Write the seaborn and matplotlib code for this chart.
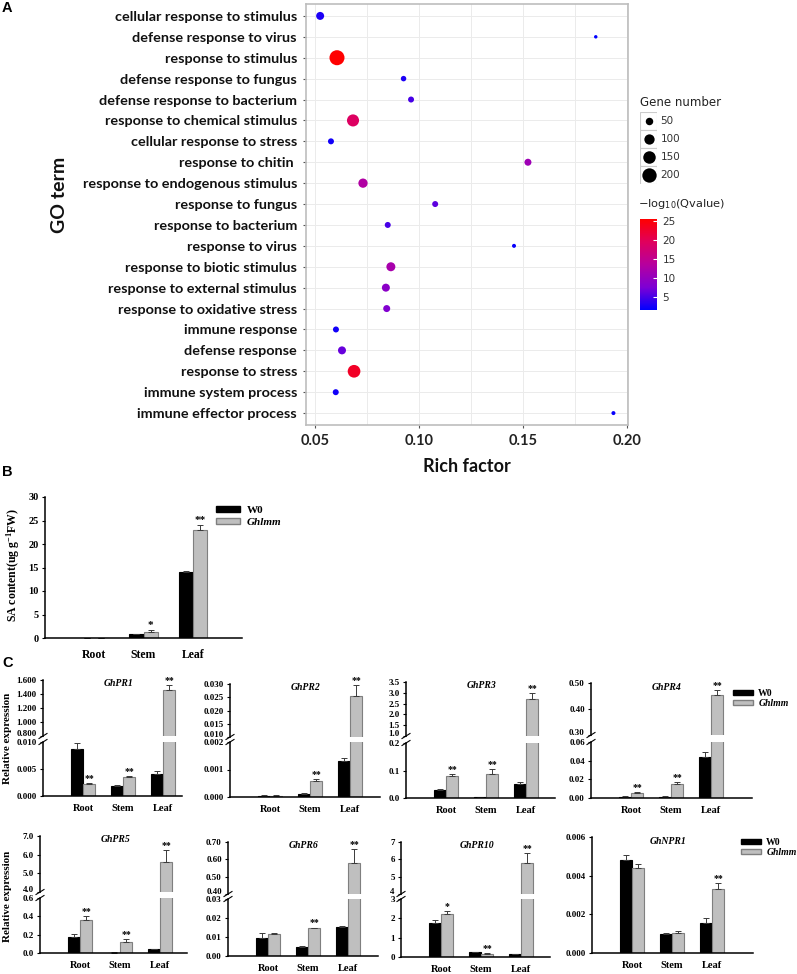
import numpy as np
import pandas as pd
import matplotlib
matplotlib.use("Agg")
import matplotlib.pyplot as plt
from matplotlib.colors import LinearSegmentedColormap, Normalize
from matplotlib.cm import ScalarMappable
from matplotlib.patches import Rectangle, Patch
from matplotlib.lines import Line2D
import seaborn as sns

# ---------------- A: GO enrichment bubble chart ----------------
go_terms = [
    "cellular response to stimulus", "defense response to virus", "response to stimulus",
    "defense response to fungus", "defense response to bacterium", "response to chemical stimulus",
    "cellular response to stress", "response to chitin ", "response to endogenous stimulus",
    "response to fungus", "response to bacterium", "response to virus",
    "response to biotic stimulus", "response to external stimulus", "response to oxidative stress",
    "immune response", "defense response", "response to stress",
    "immune system process", "immune effector process",
]
rich_factor = [0.0525, 0.185, 0.0606, 0.0926, 0.0962, 0.0683, 0.0577, 0.1524, 0.0731, 0.1078,
               0.0850, 0.1457, 0.0865, 0.0841, 0.0845, 0.0601, 0.0630, 0.0688, 0.0600, 0.1935]
gene_number = [58, 6, 220, 24, 30, 140, 30, 43, 80, 30,
               30, 10, 75, 58, 43, 30, 58, 155, 30, 10]
neg_log10_q = [3.0, 1.6, 25.5, 3.0, 5.0, 19.0, 2.5, 11.0, 13.0, 6.0,
               5.0, 2.0, 12.0, 9.0, 8.0, 2.5, 6.5, 23.0, 2.5, 2.0]
size_legend_values = [50, 100, 150, 200]
q_legend_ticks = [5, 10, 15, 20, 25]

# ---------------- B: SA content ----------------
tissues = ["Root", "Stem", "Leaf"]
sa_w0 = [0.05, 0.8, 14.0]
sa_w0_err = [0.0, 0.05, 0.3]
sa_ghlmm = [0.1, 1.3, 23.0]
sa_ghlmm_err = [0.0, 0.3, 1.1]
sa_sig = ["", "*", "**"]

# ---------------- C: qRT-PCR ----------------
genes = ["GhPR1", "GhPR2", "GhPR3", "GhPR4", "GhPR5", "GhPR6", "GhPR10", "GhNPR1"]
w0_expr = [
    [0.0087, 0.0019, 0.0041],
    [0.00005, 0.00012, 0.00131],
    [0.029, 0.002, 0.051],
    [0.0015, 0.0015, 0.044],
    [0.17, 0.005, 0.04],
    [0.0095, 0.0047, 0.0153],
    [1.78, 0.25, 0.15],
    [0.0048, 0.00098, 0.00157],
]
w0_err = [
    [0.0011, 0.0001, 0.0005],
    [0.00001, 0.00002, 0.00012],
    [0.002, 0.0005, 0.008],
    [0.0003, 0.0003, 0.005],
    [0.04, 0.002, 0.008],
    [0.0025, 0.0004, 0.0003],
    [0.15, 0.02, 0.03],
    [0.00025, 0.00005, 0.00025],
]
gh_expr = [
    [0.0022, 0.0035, 1.457],
    [0.00005, 0.00058, 0.0253],
    [0.080, 0.087, 2.73],
    [0.0058, 0.015, 0.452],
    [0.355, 0.12, 5.6],
    [0.0118, 0.0145, 0.58],
    [2.25, 0.18, 5.8],
    [0.0044, 0.00105, 0.0033],
]
gh_err = [
    [0.0002, 0.0002, 0.07],
    [0.00001, 0.00008, 0.0042],
    [0.008, 0.02, 0.28],
    [0.0005, 0.002, 0.02],
    [0.045, 0.03, 0.65],
    [0.0004, 0.0005, 0.08],
    [0.12, 0.02, 0.55],
    [0.0002, 0.0001, 0.0003],
]
gh_sig = [
    ["**", "**", "**"], ["", "**", "**"], ["**", "**", "**"], ["**", "**", "**"],
    ["**", "**", "**"], ["", "**", "**"], ["*", "**", "**"], ["", "", "**"],
]
upper_ticks = [
    [0.8, 1.0, 1.2, 1.4, 1.6], [0.010, 0.015, 0.020, 0.025, 0.030],
    [1.0, 1.5, 2.0, 2.5, 3.0, 3.5], [0.30, 0.40, 0.50],
    [4.0, 5.0, 6.0, 7.0], [0.40, 0.50, 0.60, 0.70], [4, 5, 6, 7], None,
]
lower_ticks = [
    [0, 0.005, 0.010], [0, 0.001, 0.002], [0, 0.1, 0.2], [0, 0.02, 0.04, 0.06],
    [0, 0.2, 0.4, 0.6], [0, 0.01, 0.02, 0.03], [0, 1, 2, 3], [0, 0.002, 0.004, 0.006],
]
tick_fmt = ["%.3f", "%.3f", "%.1f", "%.2f", "%.1f", "%.2f", "%d", "%.3f"]

# layout (pixels): left, right, upper top, upper bottom, lower top, lower bottom
cells = [
    (43, 182, 680, 736, 742, 796),
    (230, 380, 684, 737, 742, 797),
    (406, 555, 682, 736, 743, 798),
    (591, 752, 683, 735, 742, 798),
    (40, 187, 836, 892, 898, 953),
    (228, 378, 842, 894, 899, 956),
    (401, 550, 842, 894, 899, 957),
    (592, 753, None, None, 837, 953),
]

W, H = 797, 974
SERIF = "Liberation Serif"
plt.rcParams["mathtext.fontset"] = "custom"
plt.rcParams["mathtext.rm"] = "Liberation Serif:bold"
plt.rcParams["mathtext.it"] = "Liberation Serif:bold"


def rect(l, t, r, b):
    return [l / W, 1 - b / H, (r - l) / W, (b - t) / H]


def fx(px):
    return px / W


def fy(py):
    return 1 - py / H


fig = plt.figure(figsize=(W / 100, H / 100), dpi=100)

# ==================== panel A ====================
axA = fig.add_axes(rect(306, 4, 628, 425))
dfA = pd.DataFrame({"term": go_terms, "rich": rich_factor,
                    "genes": gene_number, "q": neg_log10_q})
qcmap = LinearSegmentedColormap.from_list(
    "bluered", ["#0000FF", "#7E00D4", "#B6009E", "#E0005C", "#FF0000"])
q_norm = (min(neg_log10_q), max(neg_log10_q))
size_norm = (0, 250)
sizes = (0.518 * 6, 0.518 * 256)

sns.scatterplot(data=dfA, x="rich", y="term", hue="q", size="genes",
                palette=qcmap, hue_norm=q_norm, sizes=sizes, size_norm=size_norm,
                linewidth=0, legend=False, ax=axA, zorder=3)
axA.set_ylim(19.57, -0.57)
axA.set_xlim(0.0457, 0.2005)
axA.set_xticks([0.05, 0.10, 0.15, 0.20], ["0.05", "0.10", "0.15", "0.20"],
               fontfamily="Lato", fontweight="bold", fontsize=10.5, color="#222222")
axA.set_xticks([0.075, 0.125, 0.175], minor=True)
axA.set_yticks(range(len(go_terms)), go_terms, fontfamily="Lato",
               fontweight="bold", fontsize=10.4, color="#111111")
axA.grid(which="both", color="#EBEBEB", lw=0.7)
axA.set_axisbelow(True)
axA.tick_params(which="major", length=2.5, width=0.8, color="#555555", pad=4)
axA.tick_params(which="minor", length=0)
for sp in axA.spines.values():
    sp.set_color("#BDBDBD")
    sp.set_linewidth(1.2)
axA.set_xlabel("")
axA.set_ylabel("")
fig.text(fx(60), fy(195), "GO term", rotation=90, ha="center", va="center",
         fontfamily="Lato", fontweight="bold", fontsize=14, color="#111111")
fig.text(fx(467), fy(467), "Rich factor", ha="center", va="center",
         fontfamily="Lato", fontweight="bold", fontsize=13, color="#111111")

# size legend
fig.text(fx(640), fy(103), "Gene number", ha="left", va="center",
         fontfamily="DejaVu Sans", fontsize=8.5, color="#222222")
legA = fig.add_axes(rect(640, 112, 657, 184))
legA.set_xlim(0, 1)
legA.set_ylim(4, 0)
legA.axis("off")
for i, v in enumerate(size_legend_values):
    legA.add_patch(Rectangle((0, i), 1, 1, fc="white", ec="#CCCCCC", lw=0.8))
    s = sizes[0] + (v - size_norm[0]) / (size_norm[1] - size_norm[0]) * (sizes[1] - sizes[0])
    legA.scatter([0.5], [i + 0.5], s=s, color="black", linewidth=0)
    legA.text(1.2, i + 0.5, str(v), ha="left", va="center", fontfamily="DejaVu Sans",
              fontsize=7.5, color="#333333")

# colour legend
fig.text(fx(638), fy(204), r"$-$log$_{10}$(Qvalue)", ha="left", va="center",
         fontfamily="DejaVu Sans", fontsize=8.2, color="#222222",
         math_fontfamily="dejavusans")
cax = fig.add_axes(rect(640, 219, 657, 310))
cb = fig.colorbar(ScalarMappable(norm=Normalize(*q_norm), cmap=qcmap), cax=cax)
cb.outline.set_visible(False)
cb.set_ticks(q_legend_ticks)
cax.tick_params(length=3, width=0.8, color="white", direction="in",
                labelsize=7.5, labelcolor="#333333", pad=4)

# panel letters
for letter, y in [("A", 8), ("B", 472), ("C", 663)]:
    fig.text(fx(2), fy(y), letter, ha="left", va="center",
             fontfamily="Liberation Sans", fontweight="bold", fontsize=10.5)

geno_colors = {"W0": "black", "Ghlmm": "#BFBFBF"}
edge_colors = ["black", "#7F7F7F"]


def style_ticks(ax, fs):
    ax.tick_params(axis="y", length=2.5, width=0.8, direction="out", pad=2, labelsize=fs)
    for lab in ax.get_yticklabels() + ax.get_xticklabels():
        lab.set_fontfamily(SERIF)
        lab.set_fontweight("bold")


def draw_bars(ax, w0, w0e, gh, ghe, sig, width, ylo, yhi, star_fs):
    df = pd.DataFrame({"tissue": tissues * 2,
                       "genotype": ["W0"] * 3 + ["Ghlmm"] * 3,
                       "value": list(w0) + list(gh)})
    sns.barplot(data=df, x="tissue", y="value", hue="genotype", hue_order=["W0", "Ghlmm"],
                palette=geno_colors, width=width, saturation=1, errorbar=None,
                legend=False, linewidth=0.8, ax=ax)
    for cont, ec in zip(ax.containers, edge_colors):
        for p in cont:
            p.set_edgecolor(ec)
    xs = np.arange(3)
    off = width / 4
    for xx, v, e in [(xs - off, w0, w0e), (xs + off, gh, ghe)]:
        ax.errorbar(xx, v, yerr=[np.zeros(3), e], fmt="none", ecolor="#3A3A3A",
                    elinewidth=0.7, capsize=2, capthick=0.7)
    ax.set_ylim(ylo, yhi)
    for x, v, e, s in zip(xs + off, gh, ghe, sig):
        top = v + e
        if s and ylo <= top <= yhi:
            ax.annotate(s, (x, top), xytext=(0, 0), textcoords="offset points",
                        ha="center", va="bottom", fontsize=star_fs,
                        fontfamily=SERIF, fontweight="bold")
    ax.set_xlabel("")
    ax.set_ylabel("")


# ==================== panel B ====================
axB = fig.add_axes(rect(45, 497, 242, 638))
draw_bars(axB, sa_w0, sa_w0_err, sa_ghlmm, sa_ghlmm_err, sa_sig, 0.58, 0, 30, 8)
axB.set_xlim(-0.99, 2.99)
axB.set_yticks(range(0, 31, 5), [str(v) for v in range(0, 31, 5)])
axB.tick_params(axis="x", length=0, pad=8, labelsize=8.5)
style_ticks(axB, 7.5)
axB.spines[["top", "right"]].set_visible(False)
for sp in axB.spines.values():
    sp.set_linewidth(1.1)
fig.text(fx(13), fy(565), r"SA content(ug g$^{-1}$FW)", rotation=90, ha="center",
         va="center", fontfamily=SERIF, fontweight="bold", fontsize=8.5)
legB = fig.legend(handles=[Patch(fc="black", ec="black"), Patch(fc="#BFBFBF", ec="#7F7F7F")],
                  labels=["W0", "Ghlmm"], loc="center left",
                  bbox_to_anchor=(fx(216), fy(516.5)), frameon=False,
                  handlelength=2.2, handleheight=0.45, handletextpad=0.6,
                  labelspacing=0.25, borderpad=0, borderaxespad=0,
                  prop={"family": SERIF, "weight": "bold", "size": 8})
legB.get_texts()[1].set_style("italic")

# ==================== panel C ====================
for gi, gene in enumerate(genes):
    L, R, ut, ub, lt, lb = cells[gi]
    xr = (R - L) / 40 - 1
    low = lower_ticks[gi]
    axL = fig.add_axes(rect(L, lt, R, lb))
    draw_bars(axL, w0_expr[gi], w0_err[gi], gh_expr[gi], gh_err[gi], gh_sig[gi],
              0.62, low[0], low[-1], 7)
    axL.set_xlim(-1, xr)
    axL.set_yticks(low, [tick_fmt[gi] % t for t in low])
    axL.tick_params(axis="x", length=0, pad=6, labelsize=7.5)
    style_ticks(axL, 6.5)
    axL.spines[["top", "right"]].set_visible(False)
    for sp in axL.spines.values():
        sp.set_linewidth(1.1)
    top_px = lt
    if upper_ticks[gi] is not None:
        up = upper_ticks[gi]
        axU = fig.add_axes(rect(L, ut, R, ub))
        draw_bars(axU, w0_expr[gi], w0_err[gi], gh_expr[gi], gh_err[gi], gh_sig[gi],
                  0.62, up[0], up[-1], 7)
        axU.set_xlim(-1, xr)
        axU.set_yticks(up, [tick_fmt[gi] % t for t in up])
        axU.set_xticks([])
        style_ticks(axU, 6.5)
        # lift the label next to the break so it clears the one below
        axU.get_yticklabels()[0].set_verticalalignment("baseline")
        axU.spines[["top", "right", "bottom"]].set_visible(False)
        axU.spines["left"].set_linewidth(1.1)
        top_px = ut
        # break marks on the y axis
        for yb in (ub, lt):
            fig.add_artist(Line2D([fx(L - 4), fx(L + 4)], [fy(yb + 2.5), fy(yb - 2.5)],
                                  color="black", lw=0.8))
    fig.text(fx(L + 76), fy(top_px + 4), gene, ha="center", va="center",
             fontfamily=SERIF, fontweight="bold", style="italic", fontsize=7)

for yy in (738, 896):
    fig.text(fx(8), fy(yy), "Relative expression", rotation=90, ha="center",
             va="center", fontfamily=SERIF, fontweight="bold", fontsize=8)

for lx, ly in [(733, 698.5), (741, 847.5)]:
    legC = fig.legend(handles=[Patch(fc="black", ec="black"), Patch(fc="#BFBFBF", ec="#7F7F7F")],
                      labels=["W0", "Ghlmm"], loc="center left",
                      bbox_to_anchor=(fx(lx), fy(ly)), frameon=False,
                      handlelength=2.1, handleheight=0.45, handletextpad=0.5,
                      labelspacing=0.15, borderpad=0, borderaxespad=0,
                      prop={"family": SERIF, "weight": "bold", "size": 7})
    legC.get_texts()[1].set_style("italic")

fig.savefig("out.png", dpi=100)
